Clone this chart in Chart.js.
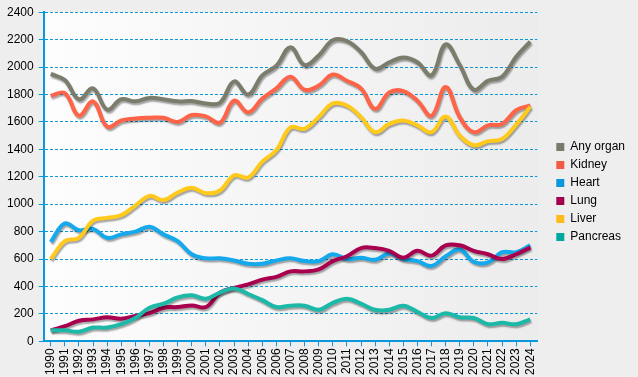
<!DOCTYPE html>
<html>
<head>
<meta charset="utf-8">
<script src="https://cdn.jsdelivr.net/npm/chart.js@4"></script>
<style>
  body { margin: 0; background: #eeeeee; }
  #wrap { width: 638px; height: 377px; }
</style>
</head>
<body>
<div id="wrap"><canvas id="chart_organs"></canvas></div>
<script>
// years on the x axis
let years = ["1990","1991","1992","1993","1994","1995","1996","1997","1998","1999",
             "2000","2001","2002","2003","2004","2005","2006","2007","2008","2009",
             "2010","2011","2012","2013","2014","2015","2016","2017","2018","2019",
             "2020","2021","2022","2023","2024"];

let any_organ = [1950,1905,1765,1845,1690,1765,1750,1775,1765,1750,
                 1752,1735,1740,1895,1800,1940,2010,2145,2015,2085,
                 2195,2190,2110,1988,2035,2070,2035,1940,2165,2015,
                 1835,1900,1930,2075,2185];
let kidney = [1790,1810,1645,1750,1565,1610,1625,1630,1630,1600,
              1650,1640,1595,1755,1670,1770,1845,1930,1835,1865,
              1945,1900,1845,1695,1815,1825,1755,1645,1855,1635,
              1525,1575,1585,1685,1720];
let heart = [725,860,810,820,755,780,800,835,780,730,
             635,605,605,590,565,565,590,605,585,585,
             635,600,610,595,640,600,585,550,620,670,
             580,575,650,650,700];
let lung = [80,110,150,160,175,165,185,205,245,250,
            262,250,355,390,415,450,470,510,510,525,
            585,620,680,680,660,610,660,625,700,700,
            660,635,600,635,685];
let liver = [600,730,755,880,900,920,990,1060,1030,1085,
             1120,1080,1100,1210,1195,1310,1395,1560,1550,1635,
             1735,1720,1635,1525,1585,1610,1575,1525,1640,1500,
             1430,1460,1475,1580,1710];
let pancreas = [80,80,70,100,100,125,170,245,275,320,
                335,310,355,385,345,300,250,260,260,230,
                280,310,275,230,230,260,215,170,205,175,
                170,125,135,125,160];

let yTicks = [0,200,400,600,800,1000,1200,1400,1600,1800,2000,2200,2400];

let seriesNames = ["Any organ", "Kidney", "Heart", "Lung", "Liver", "Pancreas"];
let seriesData = [any_organ, kidney, heart, lung, liver, pancreas];
let lineColors = ["#7c7c6c", "#ff6448", "#14a8ec", "#a8004f", "#ffca1c", "#1cb8a8"];
let legendColors = ["#7a7a6b", "#f25a43", "#0a98dc", "#a0004c", "#ffbb1a", "#00a99c"];

const blue = "#0a98dc";
const font = "'Liberation Sans', Arial, sans-serif";

// grey background + light gradient behind the plot
const backgroundPlugin = {
    id: "bg",
    beforeDraw(chart) {
        const c = chart.ctx;
        const a = chart.chartArea;
        c.save();
        c.fillStyle = "#eeeeee";
        c.fillRect(0, 0, chart.width, chart.height);
        const g = c.createLinearGradient(a.left, 0, a.right, 0);
        g.addColorStop(0, "#fdfdfd");
        g.addColorStop(1, "#ececec");
        c.fillStyle = g;
        c.fillRect(a.left, a.top, a.right - a.left, a.bottom - a.top);
        c.restore();
    }
};

// soft drop shadow under the lines
const shadowPlugin = {
    id: "lineShadow",
    beforeDatasetsDraw(chart) {
        const c = chart.ctx;
        c.save();
        c.shadowColor = "rgba(0,0,0,0.35)";
        c.shadowOffsetX = 1;
        c.shadowOffsetY = 2;
        c.shadowBlur = 1.5;
    },
    afterDatasetsDraw(chart) {
        chart.ctx.restore();
    }
};

const ctx_organs = document.getElementById("chart_organs");

new Chart(ctx_organs, {
    type: "line",
    data: {
        labels: years,
        datasets: seriesNames.map((name, i) => ({
            label: name,
            data: seriesData[i],
            borderColor: lineColors[i],
            backgroundColor: legendColors[i],
            borderWidth: 4,
            pointRadius: 0,
            tension: 0.4,
            fill: false,
            order: seriesNames.length - i
        }))
    },
    options: {
        responsive: true,
        maintainAspectRatio: false,
        animation: false,
        layout: {
            padding: { left: 2, top: 7, right: 3, bottom: 0 }
        },
        plugins: {
            tooltip: { enabled: false },
            legend: {
                position: "right",
                labels: {
                    boxWidth: 8,
                    boxHeight: 8,
                    padding: 6,
                    color: "#000",
                    font: { family: font, size: 12 },
                    sort: (a, b) => a.datasetIndex - b.datasetIndex,
                    generateLabels(chart) {
                        return Chart.defaults.plugins.legend.labels.generateLabels(chart).map(l => {
                            l.fillStyle = legendColors[l.datasetIndex];
                            l.strokeStyle = legendColors[l.datasetIndex];
                            l.lineWidth = 0;
                            return l;
                        });
                    }
                }
            }
        },
        scales: {
            x: {
                offset: true,
                grid: {
                    drawOnChartArea: false,
                    offset: false,
                    tickLength: 5,
                    tickColor: blue
                },
                border: { color: blue, width: 2 },
                ticks: {
                    autoSkip: false,
                    minRotation: 90,
                    maxRotation: 90,
                    padding: 2,
                    color: "#000",
                    font: { family: font, size: 12 }
                }
            },
            y: {
                min: 0,
                max: 2400,
                afterBuildTicks(axis) {
                    axis.ticks = yTicks.map(v => ({ value: v }));
                },
                grid: {
                    color: blue,
                    tickLength: 5,
                    tickColor: blue
                },
                border: { color: blue, width: 2, dash: [3, 2] },
                ticks: {
                    padding: 5,
                    color: "#000",
                    font: { family: font, size: 12 },
                    callback: v => String(v)
                }
            },
            // empty axis, only keeps a gap between plot and legend
            gap: {
                position: "right",
                grid: { display: false },
                border: { display: false },
                ticks: { display: false },
                afterFit(axis) { axis.width = 13; }
            }
        }
    },
    plugins: [backgroundPlugin, shadowPlugin]
});
</script>
</body>
</html>
